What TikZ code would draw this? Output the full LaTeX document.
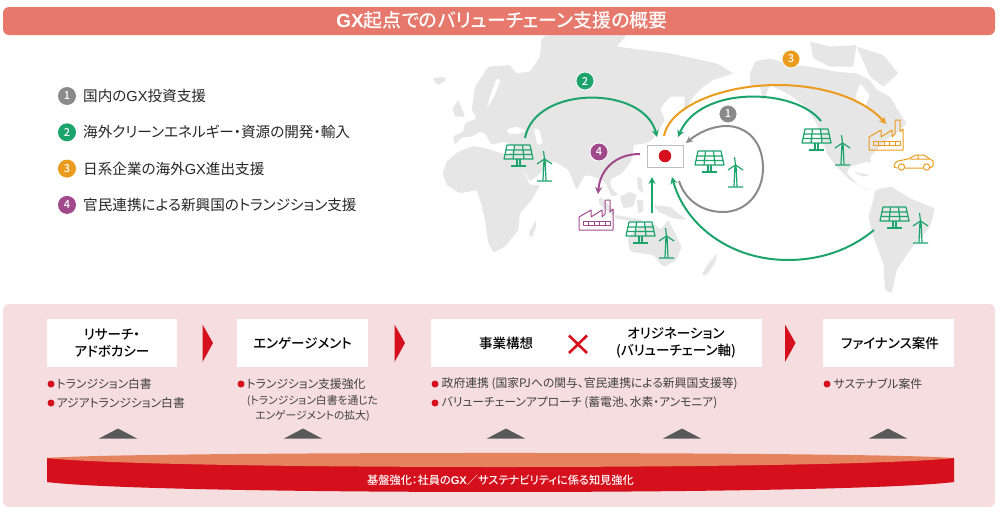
\documentclass[tikz,border=0pt]{standalone}
\usepackage{fontspec}
\setmainfont{Noto Sans CJK JP}[RawFeature=+palt,BoldFont={Noto Sans CJK JP Medium}]
\newfontfamily\latinfont{Liberation Sans}
\newcommand{\gxmark}{{\latinfont GX}}
\usetikzlibrary{positioning,arrows.meta}
\definecolor{gxgreen}{HTML}{1DA36C}
\definecolor{gxorange}{HTML}{EB9C1F}
\definecolor{gxpurple}{HTML}{A04A8C}
\definecolor{gxgray}{HTML}{8A8A8A}
\definecolor{gxred}{HTML}{D50F1C}
\definecolor{gxland}{HTML}{E6E6E6}
\tikzset{
  arc/.style={-{Stealth[length=7pt,width=7pt]},line width=2pt},
  badge/.style={circle,text=white,font=\fontsize{11}{11}\selectfont\bfseries,inner sep=0pt,minimum size=18pt,outer sep=0pt},
  mapbadge/.style={badge,draw=white,line width=.8pt},
  item/.style={font=\fontsize{14.6}{15}\selectfont,inner sep=0pt,text=black!85},
  whitebox/.style={fill=white,minimum height=48pt,inner sep=0pt,outer sep=0pt},
  boxtext/.style={font=\fontsize{13.5}{17}\selectfont\bfseries,align=center,inner sep=0pt},
  dot/.style={circle,fill=gxred,inner sep=0pt,minimum size=7pt,outer sep=0pt},
  note/.style={font=\fontsize{11.8}{12}\selectfont,inner sep=0pt,text=black!75},
  subnote/.style={font=\fontsize{10.8}{15}\selectfont,inner sep=0pt,text=black!75,align=center},
  pics/solarwind/.style={code={
    \begin{scope}[gxgreen,line width=1.2pt,line join=round]
      \draw (3,0) -- (26,0) -- (29,14) -- (0,14) -- cycle;
      \draw (1.5,5) -- (27.5,5) (1,9.5) -- (28,9.5) (10.5,0) -- (9,14) (18.5,0) -- (20,14);
      \draw (13,14) -- (13,20) (16,14) -- (16,20) (7,21) -- (22,21);
      \draw (40,14) -- (39,35) (41,14) -- (42,35) (33,36) -- (48,36);
      \draw (40.5,14) -- (39.5,6) (40.5,14) -- (48,19) (40.5,14) -- (33,19);
    \end{scope}
  }},
  pics/factory/.style={code={
    \begin{scope}[#1,line width=1pt,line join=round]
      \draw (0,32) -- (0,19) -- (12,12) -- (12,19) -- (23,12) -- (23,19) -- (26,16) -- (26,2) -- (31,2) -- (31,14) -- (34,11) -- (34,32) -- cycle;
      \draw (4,23) rectangle (31,27) (9.5,23) -- (9.5,27) (15,23) -- (15,27) (20.5,23) -- (20.5,27) (26,23) -- (26,27);
    \end{scope}
  }},
  pics/caricon/.style={code={
    \begin{scope}[gxorange,line width=1pt,line join=round]
      \draw (3,14) -- (0,13) -- (1,9) -- (4,7) -- (14,5) -- (22,1) -- (30,1) -- (36,5) -- (39,7) -- (39,12) -- (36,14) (29,14) -- (11,14);
      \draw (7.5,13) circle (3.2) (32.5,13) circle (3.2) (16,5) -- (35,5) (24,1) -- (24,5);
    \end{scope}
  }}
}
\begin{document}
\begin{tikzpicture}[x=1pt,y=-1pt]
  \useasboundingbox (0,0) rectangle (1000,514);
  % world map
  \begin{scope}[shift={(430,30)},x=.3333pt,y=-.3333pt]
    \fill[gxland,rounded corners=1.5pt] (38,430) -- (50,395) -- (85,365) -- (130,348) -- (165,355) -- (200,365) -- (235,375) -- (258,350) -- (220,335) -- (200,340) -- (185,345) -- (165,310) -- (150,305) -- (125,320) -- (95,322) -- (75,345) -- (68,320) -- (100,305) -- (105,280) -- (140,265) -- (125,240) -- (130,210) -- (135,170) -- (175,110) -- (240,105) -- (258,130) -- (300,125) -- (330,80) -- (335,25) -- (350,15) -- (590,15) -- (560,50) -- (640,60) -- (720,70) -- (860,100) -- (910,130) -- (850,150) -- (820,170) -- (790,200) -- (760,250) -- (765,200) -- (720,200) -- (690,235) -- (705,270) -- (672,325) -- (650,340) -- (610,345) -- (610,370) -- (600,400) -- (575,430) -- (540,450) -- (545,475) -- (565,495) -- (545,500) -- (525,455) -- (490,440) -- (465,435) -- (440,480) -- (415,420) -- (375,395) -- (340,400) -- (350,415) -- (300,455) -- (270,400) -- (300,465) -- (330,465) -- (305,510) -- (270,550) -- (265,600) -- (225,650) -- (190,668) -- (175,640) -- (165,570) -- (150,510) -- (140,480) -- (90,490) -- (50,465) -- cycle;
    % inland seas
    \fill[white,rounded corners=1.5pt] (230,298) -- (260,290) -- (290,302) -- (262,312) -- (235,312) -- cycle;
    \fill[white,rounded corners=1.5pt] (312,295) -- (328,298) -- (338,340) -- (322,345) -- cycle;
    \fill[white,rounded corners=1.5pt] (200,145) -- (212,150) -- (190,205) -- (170,235) -- (180,200) -- cycle;
    % islands of the old world
    \fill[gxland,rounded corners=1pt] (8,145) -- (40,140) -- (48,152) -- (22,165) -- cycle;
    \fill[gxland,rounded corners=1pt] (85,210) -- (105,260) -- (75,260) -- (68,235) -- cycle;
    \fill[gxland,rounded corners=1pt] (295,610) -- (318,570) -- (320,585) -- (305,625) -- cycle;
    \fill[gxland,rounded corners=1pt] (620,440) -- (635,445) -- (640,490) -- (625,480) -- cycle;
    \fill[gxland,rounded corners=1pt] (570,500) -- (600,485) -- (620,495) -- (610,530) -- (580,535) -- cycle;
    \fill[gxland,rounded corners=1pt] (510,500) -- (555,545) -- (550,560) -- (505,520) -- cycle;
    \fill[gxland,rounded corners=1pt] (555,555) -- (640,570) -- (630,578) -- (555,565) -- cycle;
    \fill[gxland,rounded corners=1pt] (620,510) -- (640,510) -- (640,545) -- (625,550) -- cycle;
    \fill[gxland,rounded corners=1pt] (670,525) -- (720,530) -- (770,570) -- (730,565) -- (685,545) -- cycle;
    \fill[gxland,rounded corners=2pt] (592,625) -- (630,590) -- (670,580) -- (690,600) -- (715,570) -- (755,650) -- (740,690) -- (700,712) -- (670,675) -- (600,665) -- cycle;
    \fill[gxland,rounded corners=1pt] (815,735) -- (835,700) -- (862,670) -- (855,700) -- (830,735) -- cycle;
    % the Americas
    \fill[gxland,rounded corners=1.5pt] (960,130) -- (975,95) -- (1020,85) -- (1080,105) -- (1140,110) -- (1220,125) -- (1280,130) -- (1320,150) -- (1340,180) -- (1380,200) -- (1410,250) -- (1430,280) -- (1410,300) -- (1370,330) -- (1320,380) -- (1325,400) -- (1310,395) -- (1260,410) -- (1250,430) -- (1280,460) -- (1310,480) -- (1332,480) -- (1310,478) -- (1260,450) -- (1220,410) -- (1190,370) -- (1160,280) -- (1120,225) -- (1080,195) -- (1020,165) -- (1000,215) -- (990,170) -- (960,170) -- cycle;
    \fill[white,rounded corners=1.5pt] (1290,160) -- (1320,195) -- (1305,230) -- (1275,205) -- cycle;
    \fill[gxland,rounded corners=1pt] (1140,35) -- (1200,50) -- (1280,45) -- (1270,110) -- (1200,110) -- (1150,85) -- cycle;
    \fill[gxland,rounded corners=1pt] (1280,50) -- (1360,75) -- (1405,130) -- (1360,170) -- (1320,140) -- cycle;
    \fill[gxland,rounded corners=1pt] (1270,425) -- (1320,435) -- (1300,440) -- cycle;
    \fill[gxland,rounded corners=1.5pt] (1335,480) -- (1385,470) -- (1440,505) -- (1515,535) -- (1500,590) -- (1440,660) -- (1400,720) -- (1385,790) -- (1365,780) -- (1360,700) -- (1330,620) -- (1315,560) -- (1330,510) -- cycle;
  \end{scope}
  % title bar and lower panel
  \fill[fill={rgb,255:red,230;green,120;blue,108},rounded corners=6pt] (3,7) rectangle (995,35);
  \node[font=\fontsize{19}{19}\selectfont\bfseries,text=white,inner sep=0pt] (title) at (502,20) {\gxmark 起点でのバリューチェーン支援の概要};
  \fill[fill={rgb,255:red,246;green,221;blue,224},rounded corners=6pt] (3,304) rectangle (995,507);

  % legend
  \node[badge,fill=gxgray] (l_1) at (67,96) {1};
  \node[badge,fill=gxgreen] (l_2) [below=18.3pt of l_1] {2};
  \node[badge,fill=gxorange] (l_3) [below=18.3pt of l_2] {3};
  \node[badge,fill=gxpurple] (l_4) [below=18.3pt of l_3] {4};
  \node[item] (t_1) [right=7pt of l_1] {国内の\gxmark 投資支援};
  \node[item] (t_2) [right=7pt of l_2] {海外クリーンエネルギー・資源の開発・輸入};
  \node[item] (t_3) [right=7pt of l_3] {日系企業の海外\gxmark 進出支援};
  \node[item] (t_4) [right=7pt of l_4] {官民連携による新興国のトランジション支援};

  % flag
  \node[draw=black!25,fill=white,line width=1pt,minimum width=36pt,minimum height=22pt,inner sep=0pt] (japan) at (665,156) {};
  \node[circle,fill=gxred,minimum size=12.5pt,inner sep=0pt] (sun) at (japan) {};

  % icons
  \pic (sw_west) at (504,145) {solarwind};
  \pic (sw_home) at (695,151) {solarwind};
  \pic (sw_north) at (802,129) {solarwind};
  \pic (sw_south) at (626,222) {solarwind};
  \pic (sw_brazil) at (880,207) {solarwind};
  \pic (fac_us) at (869,118) {factory=gxorange};
  \pic (fac_asia) at (579,198) {factory=gxpurple};
  \pic (car) at (894,154) {caricon};

  % connector ends
  \coordinate (a_west) at (525,138);
  \coordinate (a_japanw) at (657,137);
  \coordinate (a_orange) at (664,136);
  \coordinate (a_peak) at (777,85);
  \coordinate (a_us) at (886,124);
  \coordinate (a_north) at (821,121);
  \coordinate (a_japane) at (678,137);
  \coordinate (a_home) at (679,181);
  \coordinate (a_homeend) at (686,143);
  \coordinate (a_brazil) at (874,230);
  \coordinate (a_bottom) at (788,260);
  \coordinate (a_japans) at (672,177);
  \coordinate (a_aus) at (652,213);
  \coordinate (a_japanb) at (652,177);
  \coordinate (a_flagw) at (640,154);
  \coordinate (a_asia) at (598,194);

  \draw[arc,gxgreen] (a_west) .. controls (535,85) and (644,85) .. (a_japanw);
  \draw[arc,gxorange] (a_orange) .. controls (670,105) and (725,85) .. (a_peak) .. controls (825,85) and (865,100) .. (a_us);
  \draw[arc,gxgreen] (a_north) .. controls (795,88) and (700,85) .. (a_japane);
  \draw[arc,gxgray] (a_home) .. controls (685,200) and (702,212) .. (723,212) .. controls (747,212) and (763,192) .. (763,168) .. controls (763,143) and (748,126) .. (726,126) .. controls (712,126) and (698,133) .. (a_homeend);
  \draw[arc,gxgreen] (a_brazil) .. controls (850,250) and (820,260) .. (a_bottom) .. controls (730,260) and (685,225) .. (a_japans);
  \draw[arc,gxgreen] (a_aus) -- (a_japanb);
  \draw[arc,gxpurple] (a_flagw) .. controls (615,154) and (600,170) .. (a_asia);

  \node[mapbadge,fill=gxgray] (m_1) at (728,114) {1};
  \node[mapbadge,fill=gxgreen] (m_2) at (585,81) {2};
  \node[mapbadge,fill=gxorange] (m_3) at (791,59) {3};
  \node[mapbadge,fill=gxpurple] (m_4) at (599,152) {4};

  % process boxes
  \node[whitebox,minimum width=130pt] (b_1) at (112,343) {};
  \node[whitebox,minimum width=131pt] (b_2) [right=60pt of b_1] {};
  \node[whitebox,minimum width=331pt] (b_3) [right=63pt of b_2] {};
  \node[whitebox,minimum width=131pt] (b_4) [right=61pt of b_3] {};
  \node[boxtext] (r_1) at (b_1) {リサーチ・\\アドボカシー};
  \node[boxtext] (r_2) at (b_2) {エンゲージメント};
  \node[boxtext] (r_3) at (506,343) {事業構想};
  \node[boxtext] (r_4) at (676,343) {オリジネーション\\(バリューチェーン軸)};
  \node[boxtext] (r_5) at (890,343) {ファイナンス案件};
  \draw[gxred,line width=2.6pt] (569,335.5) -- (587,353) (587,335.5) -- (569,353);

  \foreach \x in {202.5,394.5,785} {
    \fill[gxred] (\x,324.5) -- (\x+10.5,343) -- (\x,362) -- cycle;
  }

  % notes under the boxes
  \node[dot] (d_1) at (51,384) {};
  \node[dot] (d_2) [below=12pt of d_1] {};
  \node[note] (n_1) [right=2pt of d_1] {トランジション白書};
  \node[note] (n_2) [right=2pt of d_2] {アジアトランジション白書};
  \node[dot] (d_3) at (241,384) {};
  \node[note] (n_3) [right=2pt of d_3] {トランジション支援強化};
  \node[subnote] (n_4) at (312.5,408.5) {(トランジション白書を通じた\\エンゲージメントの拡大)};
  \node[dot] (d_4) at (435,384) {};
  \node[dot] (d_5) [below=12pt of d_4] {};
  \node[note] (n_5) [right=3pt of d_4] {政府連携 (国家PJへの関与、官民連携による新興国支援等)};
  \node[note] (n_6) [right=3pt of d_5] {バリューチェーンアプローチ (蓄電池、水素・アンモニア)};
  \node[dot] (d_6) at (827,384) {};
  \node[note] (n_7) [right=3pt of d_6] {サステナブル案件};

  \foreach \x in {118,303,506,682,888} {
    \fill[black!65] (\x-19,438.5) -- (\x,428.5) -- (\x+19,438.5) -- cycle;
  }

  % base disc
  \fill[gxred] (47,458) -- (47,482) .. controls (150,495.3) and (850,495.3) .. (954,482) -- (954,458) -- cycle;
  \fill[fill={rgb,255:red,229;green,131;blue,95}] (47,458) .. controls (130,451.3) and (870,451.3) .. (954,458) .. controls (850,470) and (150,470) .. (47,458) -- cycle;
  \node[font=\fontsize{11.2}{12}\selectfont\bfseries,text=white,inner sep=0pt] (basetext) at (500.5,480.5) {基盤強化：社員の\gxmark ／サステナビリティに係る知見強化};
\end{tikzpicture}
\end{document}
